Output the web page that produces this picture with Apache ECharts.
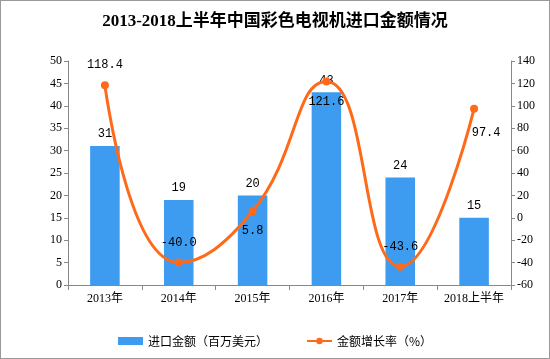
<!DOCTYPE html>
<html><head><meta charset="utf-8">
<script src="https://cdn.jsdelivr.net/npm/echarts@6/dist/echarts.min.js"></script>
<style>html,body{margin:0;padding:0;background:#fff}#c{width:550px;height:359px;box-sizing:border-box;border:1px solid #999}</style>
</head><body><div id="c"></div>
<script>
const categories = ['2013年','2014年','2015年','2016年','2017年','2018上半年'];
const importValues = [31, 19, 20, 43, 24, 15];
const growthRates = [118.4, -40.0, 5.8, 121.6, -43.6, 97.4];
const leftTicks = {min:0, max:50, interval:5};
const rightTicks = {min:-60, max:140, interval:20};
const seriesNames = ['进口金额（百万美元）','金额增长率（%）'];
const titleText = '2013-2018上半年中国彩色电视机进口金额情况';

const serif = "'Liberation Serif','Noto Sans CJK SC',serif";
const mono = "'Liberation Mono','Noto Sans CJK SC',monospace";
const chart = echarts.init(document.getElementById('c'), null, {renderer:'canvas'});
const labelPos = ['top','top','bottom','bottom','top','bottom'];
const labelOff = [[0,-2],[0,-2],[0,2],[0,2],[0,-2],[12,6]];
chart.setOption({
  animation:false,
  title:{text:titleText,left:'center',top:7,textStyle:{fontFamily:serif,fontSize:17,fontWeight:'bold',color:'#000'}},
  grid:{left:67,right:38,top:60,bottom:73,containLabel:false},
  legend:{bottom:6,left:'center',itemGap:38,itemWidth:25,itemHeight:8,textStyle:{fontFamily:"'Noto Sans CJK SC'",fontSize:12,color:'#000'},
    data:[{name:seriesNames[0],icon:'rect'},{name:seriesNames[1]}]},
  xAxis:{type:'category',data:categories,axisLine:{lineStyle:{color:'#888'}},axisTick:{show:true,alignWithLabel:false,lineStyle:{color:'#888'}},
    axisLabel:{interval:0,color:'#000',fontFamily:serif,fontSize:12,margin:8}},
  yAxis:[
    {type:'value',min:leftTicks.min,max:leftTicks.max,interval:leftTicks.interval,splitLine:{show:false},
     axisLine:{show:true,lineStyle:{color:'#888'}},axisTick:{show:true,length:4,lineStyle:{color:'#888'}},
     axisLabel:{color:'#000',fontFamily:serif,fontSize:12,margin:6}},
    {type:'value',min:rightTicks.min,max:rightTicks.max,interval:rightTicks.interval,splitLine:{show:false},
     axisLine:{show:true,lineStyle:{color:'#888'}},axisTick:{show:true,length:4,lineStyle:{color:'#888'}},
     axisLabel:{color:'#000',fontFamily:serif,fontSize:12,margin:6}}
  ],
  series:[
    {name:seriesNames[0],type:'bar',data:importValues,barWidth:'40%',itemStyle:{color:'#3d9bf0'},
     label:{show:true,position:'top',color:'#000',fontFamily:mono,fontSize:12,distance:6}},
    {name:seriesNames[1],type:'line',yAxisIndex:1,smooth:0.5,data:growthRates.map((v,i)=>({value:v,label:{position:labelPos[i],offset:labelOff[i]}})),
     symbol:'circle',symbolSize:8,lineStyle:{color:'#ff6a1a',width:3},itemStyle:{color:'#ff6a1a'},
     label:{show:true,color:'#000',fontFamily:mono,fontSize:12,distance:8,formatter:p=>p.value.toFixed(1)}}
  ]
});
</script></body></html>
